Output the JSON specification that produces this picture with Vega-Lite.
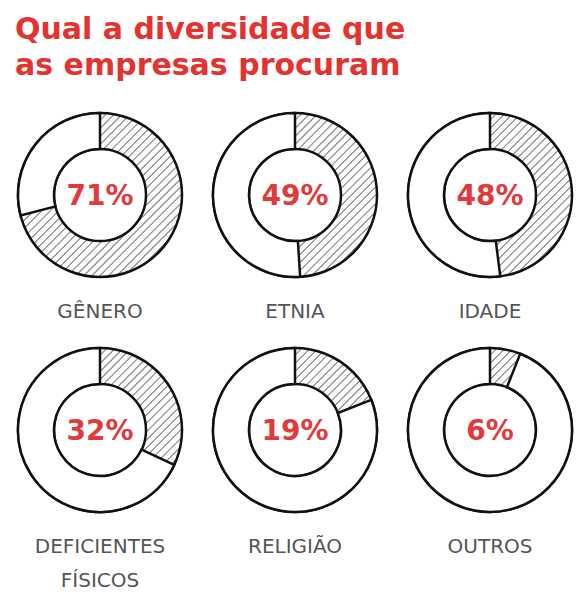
{
  "$schema": "https://vega.github.io/schema/vega-lite/v6.json",
  "padding": {"left": 10, "top": 15, "right": 0, "bottom": 0},
  "background": "white",
  "bounds": "flush",
  "title": {
    "text": ["Qual a diversidade que", "as empresas procuram"],
    "anchor": "start",
    "frame": "group",
    "font": "DejaVu Sans",
    "fontSize": 30,
    "fontWeight": "bold",
    "color": "#e4322f",
    "lineHeight": 36,
    "offset": 26,
    "dx": 5
  },
  "data": {
    "values": [
      {"cat": "GÊNERO", "pct": 0.71},
      {"cat": "ETNIA", "pct": 0.49},
      {"cat": "IDADE", "pct": 0.48},
      {"cat": "DEFICIENTES FÍSICOS", "pct": 0.32},
      {"cat": "RELIGIÃO", "pct": 0.19},
      {"cat": "OUTROS", "pct": 0.06}
    ]
  },
  "columns": 3,
  "spacing": {"row": 59, "column": 15},
  "facet": {
    "field": "cat",
    "type": "nominal",
    "sort": ["GÊNERO", "ETNIA", "IDADE", "DEFICIENTES FÍSICOS", "RELIGIÃO", "OUTROS"],
    "title": null,
    "header": {
      "labelOrient": "bottom",
      "labelPadding": 19,
      "labelBaseline": "top",
      "labelFont": "DejaVu Sans",
      "labelFontSize": 20,
      "labelColor": "#555555",
      "labelLineHeight": 34,
      "labelExpr": "datum.value == 'DEFICIENTES FÍSICOS' ? ['DEFICIENTES', 'FÍSICOS'] : datum.value"
    }
  },
  "spec": {
    "width": 180,
    "height": 176,
    "layer": [
      {
        "mark": {
          "type": "arc",
          "innerRadius": 46,
          "outerRadius": 82,
          "stroke": "#111111",
          "strokeWidth": 2.5,
          "fill": {
            "gradient": "linear",
            "x1": 0, "y1": 0, "x2": 1, "y2": 1,
            "stops": [
              {"offset": 0, "color": "#ffffff"}, {"offset": 0.018, "color": "#ffffff"}, {"offset": 0.019, "color": "#9c9c9c"}, {"offset": 0.024, "color": "#9c9c9c"},
              {"offset": 0.025, "color": "#ffffff"}, {"offset": 0.043, "color": "#ffffff"}, {"offset": 0.044, "color": "#9c9c9c"}, {"offset": 0.049, "color": "#9c9c9c"},
              {"offset": 0.05, "color": "#ffffff"}, {"offset": 0.068, "color": "#ffffff"}, {"offset": 0.069, "color": "#9c9c9c"}, {"offset": 0.074, "color": "#9c9c9c"},
              {"offset": 0.075, "color": "#ffffff"}, {"offset": 0.093, "color": "#ffffff"}, {"offset": 0.094, "color": "#9c9c9c"}, {"offset": 0.099, "color": "#9c9c9c"},
              {"offset": 0.1, "color": "#ffffff"}, {"offset": 0.118, "color": "#ffffff"}, {"offset": 0.119, "color": "#9c9c9c"}, {"offset": 0.124, "color": "#9c9c9c"},
              {"offset": 0.125, "color": "#ffffff"}, {"offset": 0.143, "color": "#ffffff"}, {"offset": 0.144, "color": "#9c9c9c"}, {"offset": 0.149, "color": "#9c9c9c"},
              {"offset": 0.15, "color": "#ffffff"}, {"offset": 0.168, "color": "#ffffff"}, {"offset": 0.169, "color": "#9c9c9c"}, {"offset": 0.174, "color": "#9c9c9c"},
              {"offset": 0.175, "color": "#ffffff"}, {"offset": 0.193, "color": "#ffffff"}, {"offset": 0.194, "color": "#9c9c9c"}, {"offset": 0.199, "color": "#9c9c9c"},
              {"offset": 0.2, "color": "#ffffff"}, {"offset": 0.218, "color": "#ffffff"}, {"offset": 0.219, "color": "#9c9c9c"}, {"offset": 0.224, "color": "#9c9c9c"},
              {"offset": 0.225, "color": "#ffffff"}, {"offset": 0.243, "color": "#ffffff"}, {"offset": 0.244, "color": "#9c9c9c"}, {"offset": 0.249, "color": "#9c9c9c"},
              {"offset": 0.25, "color": "#ffffff"}, {"offset": 0.268, "color": "#ffffff"}, {"offset": 0.269, "color": "#9c9c9c"}, {"offset": 0.274, "color": "#9c9c9c"},
              {"offset": 0.275, "color": "#ffffff"}, {"offset": 0.293, "color": "#ffffff"}, {"offset": 0.294, "color": "#9c9c9c"}, {"offset": 0.299, "color": "#9c9c9c"},
              {"offset": 0.3, "color": "#ffffff"}, {"offset": 0.318, "color": "#ffffff"}, {"offset": 0.319, "color": "#9c9c9c"}, {"offset": 0.324, "color": "#9c9c9c"},
              {"offset": 0.325, "color": "#ffffff"}, {"offset": 0.343, "color": "#ffffff"}, {"offset": 0.344, "color": "#9c9c9c"}, {"offset": 0.349, "color": "#9c9c9c"},
              {"offset": 0.35, "color": "#ffffff"}, {"offset": 0.368, "color": "#ffffff"}, {"offset": 0.369, "color": "#9c9c9c"}, {"offset": 0.374, "color": "#9c9c9c"},
              {"offset": 0.375, "color": "#ffffff"}, {"offset": 0.393, "color": "#ffffff"}, {"offset": 0.394, "color": "#9c9c9c"}, {"offset": 0.399, "color": "#9c9c9c"},
              {"offset": 0.4, "color": "#ffffff"}, {"offset": 0.418, "color": "#ffffff"}, {"offset": 0.419, "color": "#9c9c9c"}, {"offset": 0.424, "color": "#9c9c9c"},
              {"offset": 0.425, "color": "#ffffff"}, {"offset": 0.443, "color": "#ffffff"}, {"offset": 0.444, "color": "#9c9c9c"}, {"offset": 0.449, "color": "#9c9c9c"},
              {"offset": 0.45, "color": "#ffffff"}, {"offset": 0.468, "color": "#ffffff"}, {"offset": 0.469, "color": "#9c9c9c"}, {"offset": 0.474, "color": "#9c9c9c"},
              {"offset": 0.475, "color": "#ffffff"}, {"offset": 0.493, "color": "#ffffff"}, {"offset": 0.494, "color": "#9c9c9c"}, {"offset": 0.499, "color": "#9c9c9c"},
              {"offset": 0.5, "color": "#ffffff"}, {"offset": 0.518, "color": "#ffffff"}, {"offset": 0.519, "color": "#9c9c9c"}, {"offset": 0.524, "color": "#9c9c9c"},
              {"offset": 0.525, "color": "#ffffff"}, {"offset": 0.543, "color": "#ffffff"}, {"offset": 0.544, "color": "#9c9c9c"}, {"offset": 0.549, "color": "#9c9c9c"},
              {"offset": 0.55, "color": "#ffffff"}, {"offset": 0.568, "color": "#ffffff"}, {"offset": 0.569, "color": "#9c9c9c"}, {"offset": 0.574, "color": "#9c9c9c"},
              {"offset": 0.575, "color": "#ffffff"}, {"offset": 0.593, "color": "#ffffff"}, {"offset": 0.594, "color": "#9c9c9c"}, {"offset": 0.599, "color": "#9c9c9c"},
              {"offset": 0.6, "color": "#ffffff"}, {"offset": 0.618, "color": "#ffffff"}, {"offset": 0.619, "color": "#9c9c9c"}, {"offset": 0.624, "color": "#9c9c9c"},
              {"offset": 0.625, "color": "#ffffff"}, {"offset": 0.643, "color": "#ffffff"}, {"offset": 0.644, "color": "#9c9c9c"}, {"offset": 0.649, "color": "#9c9c9c"},
              {"offset": 0.65, "color": "#ffffff"}, {"offset": 0.668, "color": "#ffffff"}, {"offset": 0.669, "color": "#9c9c9c"}, {"offset": 0.674, "color": "#9c9c9c"},
              {"offset": 0.675, "color": "#ffffff"}, {"offset": 0.693, "color": "#ffffff"}, {"offset": 0.694, "color": "#9c9c9c"}, {"offset": 0.699, "color": "#9c9c9c"},
              {"offset": 0.7, "color": "#ffffff"}, {"offset": 0.718, "color": "#ffffff"}, {"offset": 0.719, "color": "#9c9c9c"}, {"offset": 0.724, "color": "#9c9c9c"},
              {"offset": 0.725, "color": "#ffffff"}, {"offset": 0.743, "color": "#ffffff"}, {"offset": 0.744, "color": "#9c9c9c"}, {"offset": 0.749, "color": "#9c9c9c"},
              {"offset": 0.75, "color": "#ffffff"}, {"offset": 0.768, "color": "#ffffff"}, {"offset": 0.769, "color": "#9c9c9c"}, {"offset": 0.774, "color": "#9c9c9c"},
              {"offset": 0.775, "color": "#ffffff"}, {"offset": 0.793, "color": "#ffffff"}, {"offset": 0.794, "color": "#9c9c9c"}, {"offset": 0.799, "color": "#9c9c9c"},
              {"offset": 0.8, "color": "#ffffff"}, {"offset": 0.818, "color": "#ffffff"}, {"offset": 0.819, "color": "#9c9c9c"}, {"offset": 0.824, "color": "#9c9c9c"},
              {"offset": 0.825, "color": "#ffffff"}, {"offset": 0.843, "color": "#ffffff"}, {"offset": 0.844, "color": "#9c9c9c"}, {"offset": 0.849, "color": "#9c9c9c"},
              {"offset": 0.85, "color": "#ffffff"}, {"offset": 0.868, "color": "#ffffff"}, {"offset": 0.869, "color": "#9c9c9c"}, {"offset": 0.874, "color": "#9c9c9c"},
              {"offset": 0.875, "color": "#ffffff"}, {"offset": 0.893, "color": "#ffffff"}, {"offset": 0.894, "color": "#9c9c9c"}, {"offset": 0.899, "color": "#9c9c9c"},
              {"offset": 0.9, "color": "#ffffff"}, {"offset": 0.918, "color": "#ffffff"}, {"offset": 0.919, "color": "#9c9c9c"}, {"offset": 0.924, "color": "#9c9c9c"},
              {"offset": 0.925, "color": "#ffffff"}, {"offset": 0.943, "color": "#ffffff"}, {"offset": 0.944, "color": "#9c9c9c"}, {"offset": 0.949, "color": "#9c9c9c"},
              {"offset": 0.95, "color": "#ffffff"}, {"offset": 0.968, "color": "#ffffff"}, {"offset": 0.969, "color": "#9c9c9c"}, {"offset": 0.974, "color": "#9c9c9c"},
              {"offset": 0.975, "color": "#ffffff"}, {"offset": 0.993, "color": "#ffffff"}, {"offset": 0.994, "color": "#9c9c9c"}, {"offset": 0.999, "color": "#9c9c9c"},
              {"offset": 1, "color": "#ffffff"}
            ]
          }
        },
        "encoding": {
          "theta": {"datum": 0, "type": "quantitative", "scale": {"domain": [0, 1], "range": [0, 6.283185307179586]}, "stack": null},
          "theta2": {"datum": 1}
        }
      },
      {
        "mark": {
          "type": "arc",
          "innerRadius": 46,
          "outerRadius": 82,
          "fill": "#ffffff",
          "stroke": "#111111",
          "strokeWidth": 2.5
        },
        "encoding": {
          "theta": {"field": "pct", "type": "quantitative", "scale": {"domain": [0, 1], "range": [0, 6.283185307179586]}, "stack": null},
          "theta2": {"datum": 1}
        }
      },
      {
        "mark": {
          "type": "text",
          "font": "DejaVu Sans",
          "fontSize": 28,
          "fontWeight": "bold",
          "color": "#e23a3c",
          "align": "center",
          "baseline": "middle",
          "dy": 2
        },
        "encoding": {
          "text": {"field": "pct", "type": "quantitative", "format": ".0%"}
        }
      }
    ]
  },
  "config": {
    "view": {"stroke": null}
  }
}
